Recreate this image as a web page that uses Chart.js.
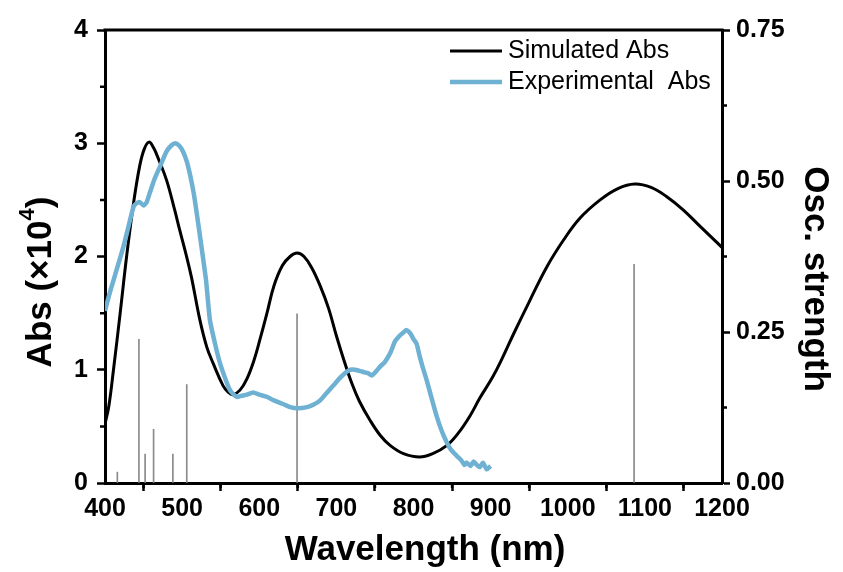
<!DOCTYPE html>
<html>
<head>
<meta charset="utf-8">
<script src="https://cdn.jsdelivr.net/npm/chart.js@4.4.1/dist/chart.umd.min.js"></script>
<style>
  html, body { margin: 0; padding: 0; background: #fff; }
  #wrap { width: 843px; height: 572px; }
</style>
</head>
<body>
<div id="wrap"><canvas id="spectrum"></canvas></div>
<script>
// simulated absorption (x10^4)
const simWavelength = [400, 405, 411, 420, 428, 437, 445, 451, 457, 463, 470, 480, 490, 497, 505, 512, 523, 532, 540, 553, 560, 566, 575, 584, 593, 601, 610, 619, 630, 640, 649, 658, 668, 679, 690, 700, 710, 720, 730, 744, 757, 770, 787, 808, 825, 843, 858, 873, 886, 903, 915, 930, 950, 973, 995, 1016, 1042, 1065, 1087, 1108, 1128, 1150, 1171, 1200];
const simAbs = [0.52, 0.68, 1.0, 1.52, 2.0, 2.47, 2.8, 2.95, 3.01, 2.96, 2.85, 2.67, 2.42, 2.23, 2.02, 1.82, 1.44, 1.2, 1.06, 0.86, 0.8, 0.78, 0.82, 0.92, 1.08, 1.27, 1.5, 1.74, 1.92, 2.0, 2.03, 2.0, 1.9, 1.74, 1.54, 1.3, 1.08, 0.88, 0.72, 0.55, 0.42, 0.33, 0.26, 0.23, 0.26, 0.33, 0.44, 0.59, 0.75, 0.94, 1.1, 1.32, 1.6, 1.91, 2.15, 2.34, 2.5, 2.6, 2.64, 2.61, 2.53, 2.41, 2.27, 2.08];

// measured absorption (x10^4)
const expWavelength = [400, 405, 411, 418, 424, 431, 437, 441, 445, 450, 454, 458, 464, 471, 480, 486, 491, 496, 501, 506, 510, 515, 519, 525, 531, 536, 542, 549, 556, 562, 567, 571, 577, 584, 592, 600, 610, 619, 630, 640, 650, 662, 670, 679, 688, 696, 705, 713, 718, 724, 730, 735, 741, 746, 752, 757, 763, 770, 776, 782, 787, 791, 796, 800, 804, 808, 812, 817, 823, 830, 836, 843, 849, 856, 862, 866, 869, 874, 878, 882, 886, 890, 895, 900];
const expAbs = [1.52, 1.65, 1.79, 1.95, 2.09, 2.28, 2.44, 2.47, 2.48, 2.45, 2.48, 2.56, 2.68, 2.79, 2.93, 2.98, 3.0, 2.98, 2.93, 2.84, 2.73, 2.56, 2.38, 2.09, 1.79, 1.44, 1.25, 1.06, 0.92, 0.82, 0.78, 0.76, 0.77, 0.78, 0.8, 0.78, 0.76, 0.73, 0.7, 0.67, 0.66, 0.67, 0.69, 0.73, 0.8, 0.86, 0.93, 0.98, 1.0, 1.0, 0.99, 0.98, 0.97, 0.95, 0.99, 1.03, 1.07, 1.15, 1.25, 1.3, 1.33, 1.35, 1.32, 1.27, 1.23, 1.12, 1.02, 0.91, 0.76, 0.59, 0.47, 0.36, 0.29, 0.24, 0.2, 0.16, 0.18, 0.15, 0.19, 0.16, 0.14, 0.18, 0.12, 0.15];

// computed transitions
const stickWavelength = [416, 444, 452, 463, 488, 506, 649, 1086];
const stickOsc = [0.018, 0.238, 0.048, 0.089, 0.048, 0.163, 0.28, 0.362];

const xTicks = [400, 500, 600, 700, 800, 900, 1000, 1100, 1200];
const absTicks = [0, 1, 2, 3, 4];
const oscTicks = [0, 0.25, 0.5, 0.75];

const toPoints = (xs, ys) => xs.map((x, i) => ({ x: x, y: ys[i] }));

const FONT = '"Liberation Sans", Arial, sans-serif';
const BLUE = '#6fb1d3';

// small ticks between the labelled ones, plus the top frame line
const frameAndMinorTicks = {
  id: 'frameAndMinorTicks',
  afterDraw(chart) {
    const { ctx, chartArea } = chart;
    const sx = chart.scales.x, sy = chart.scales.y, s2 = chart.scales.y2;
    ctx.save();
    ctx.strokeStyle = '#000';
    ctx.lineWidth = 3;
    ctx.beginPath();
    ctx.moveTo(chartArea.left - 1.5, chartArea.top);
    ctx.lineTo(chartArea.right + 1.5, chartArea.top);
    ctx.stroke();

    ctx.lineWidth = 2.5;
    ctx.beginPath();
    for (let i = 0; i < xTicks.length - 1; i++) {
      const px = sx.getPixelForValue((xTicks[i] + xTicks[i + 1]) / 2);
      ctx.moveTo(px, chartArea.bottom);
      ctx.lineTo(px, chartArea.bottom + 5);
    }
    for (let i = 0; i < absTicks.length - 1; i++) {
      const py = sy.getPixelForValue((absTicks[i] + absTicks[i + 1]) / 2);
      ctx.moveTo(chartArea.left, py);
      ctx.lineTo(chartArea.left - 5, py);
    }
    for (let i = 0; i < oscTicks.length - 1; i++) {
      const py = s2.getPixelForValue((oscTicks[i] + oscTicks[i + 1]) / 2);
      ctx.moveTo(chartArea.right, py);
      ctx.lineTo(chartArea.right + 5, py);
    }
    ctx.stroke();
    ctx.restore();
  }
};

// axis titles, drawn by hand so the exponent can be raised
const axisTitles = {
  id: 'axisTitles',
  afterDraw(chart) {
    const { ctx, chartArea } = chart;
    const big = 'bold 35px ' + FONT;
    const small = 'bold 22px ' + FONT;
    ctx.save();
    ctx.fillStyle = '#000';
    ctx.textBaseline = 'middle';

    ctx.font = big;
    ctx.textAlign = 'center';
    ctx.fillText('Wavelength (nm)', chartArea.left + 320, chartArea.bottom + 67);

    // left: Abs (x10^4)
    const parts = [['Abs (×10', big, 0], ['4', small, -13], [')', big, 0]];
    let total = 0;
    parts.forEach(p => { ctx.font = p[1]; total += ctx.measureText(p[0]).width; });
    ctx.translate(41, chartArea.top + 252);
    ctx.rotate(-Math.PI / 2);
    ctx.textAlign = 'left';
    let x = -total / 2;
    parts.forEach(p => {
      ctx.font = p[1];
      ctx.fillText(p[0], x, p[2]);
      x += ctx.measureText(p[0]).width;
    });
    ctx.setTransform(1, 0, 0, 1, 0, 0);

    // right: Osc. strength
    ctx.translate(815, chartArea.top + 249);
    ctx.rotate(Math.PI / 2);
    ctx.font = big;
    ctx.textAlign = 'center';
    ctx.fillText('Osc. strength', 0, 0);
    ctx.restore();
  }
};

// legend in the top-right corner of the plot
const cornerLegend = {
  id: 'cornerLegend',
  afterDraw(chart) {
    const { ctx, chartArea } = chart;
    const x0 = chartArea.right - 272;
    let y = chartArea.top + 21;
    ctx.save();
    ctx.font = '25px ' + FONT;
    ctx.textBaseline = 'middle';
    ctx.fillStyle = '#000';
    const lines = chart.data.datasets.filter(d => d.type === 'line').sort((a, b) => b.order - a.order);
    lines.forEach(d => {
      ctx.strokeStyle = d.borderColor;
      ctx.lineWidth = d.borderWidth;
      ctx.beginPath();
      ctx.moveTo(x0, y);
      ctx.lineTo(x0 + 52, y);
      ctx.stroke();
      ctx.fillText(d.label, x0 + 58, y);
      y += 31;
    });
    ctx.restore();
  }
};

const axisGrid = {
  drawOnChartArea: false,
  drawTicks: true,
  tickLength: 8,
  tickWidth: 2.5,
  tickColor: '#000',
  color: '#000'
};
const axisBorder = { display: true, width: 3, color: '#000' };
const tickFont = { family: FONT, size: 25, weight: 'bold' };

new Chart(document.getElementById('spectrum'), {
  type: 'line',
  data: {
    datasets: [
      {
        type: 'line',
        label: 'Experimental  Abs',
        data: toPoints(expWavelength, expAbs),
        borderColor: BLUE,
        borderWidth: 4.5,
        pointRadius: 0,
        tension: 0.2,
        yAxisID: 'y',
        order: 1
      },
      {
        type: 'line',
        label: 'Simulated Abs',
        data: toPoints(simWavelength, simAbs),
        borderColor: '#000',
        borderWidth: 3,
        pointRadius: 0,
        tension: 0.4,
        yAxisID: 'y',
        order: 2
      },
      {
        type: 'bar',
        label: 'Osc. strength',
        data: toPoints(stickWavelength, stickOsc),
        backgroundColor: '#8a8a8a',
        borderWidth: 0,
        barThickness: 1,
        yAxisID: 'y2',
        order: 3
      }
    ]
  },
  options: {
    responsive: true,
    maintainAspectRatio: false,
    animation: false,
    layout: { padding: { top: 30, left: 0, right: 0, bottom: 0 } },
    plugins: {
      legend: { display: false },
      tooltip: { enabled: false }
    },
    scales: {
      x: {
        type: 'linear',
        offset: false,
        min: 400,
        max: 1200,
        afterFit: s => { s.height = 89; },
        afterBuildTicks: s => { s.ticks = xTicks.map(v => ({ value: v })); },
        ticks: { font: tickFont, color: '#000', padding: 3, maxRotation: 0, callback: v => String(v) },
        grid: axisGrid,
        border: axisBorder
      },
      y: {
        position: 'left',
        min: 0,
        max: 4,
        afterFit: s => { s.width = 105; },
        afterBuildTicks: s => { s.ticks = absTicks.map(v => ({ value: v })); },
        ticks: { font: tickFont, color: '#000', padding: 9, callback: v => String(v) },
        grid: axisGrid,
        border: axisBorder
      },
      y2: {
        position: 'right',
        min: 0,
        max: 0.75,
        afterFit: s => { s.width = 121; },
        afterBuildTicks: s => { s.ticks = oscTicks.map(v => ({ value: v })); },
        ticks: { font: tickFont, color: '#000', padding: 6, callback: v => v.toFixed(2) },
        grid: axisGrid,
        border: axisBorder
      }
    }
  },
  plugins: [frameAndMinorTicks, axisTitles, cornerLegend]
});
</script>
</body>
</html>
